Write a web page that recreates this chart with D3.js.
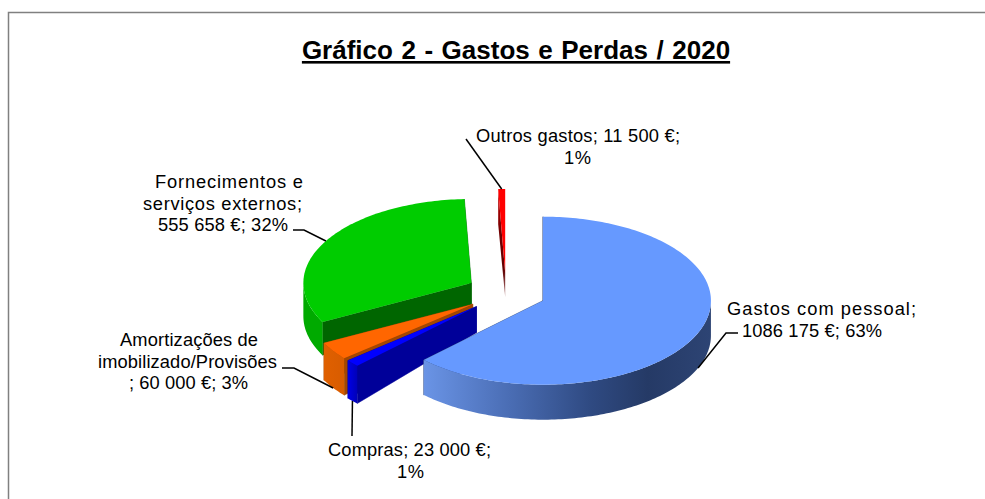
<!DOCTYPE html>
<html>
<head>
<meta charset="utf-8">
<script src="https://cdn.jsdelivr.net/npm/d3@7/dist/d3.min.js"></script>
<style>
  html, body { margin: 0; padding: 0; background: #fff; }
  text { font-family: "Liberation Sans", Arial, sans-serif; fill: #000; }
</style>
</head>
<body>
<div id="chart"></div>
<script>
const categories = ["Gastos com pessoal", "Compras", "Amortizações de imobilizado/Provisões", "Fornecimentos e serviços externos", "Outros gastos"];
const values = [1086175, 23000, 60000, 555658, 11500];
const labelLines = [
    ["Gastos com pessoal;", "1086 175 €; 63%"],
    ["Compras; 23 000 €;", "1%"],
    ["Amortizações de", "imobilizado/Provisões", "; 60 000 €; 3%"],
    ["Fornecimentos e", "serviços externos;", "555 658 €; 32%"],
    ["Outros gastos; 11 500 €;", "1%"]
];
const titleText = "Gráfico 2 - Gastos e Perdas / 2020";

const width = 985, height = 499;

// pie geometry (all slices exploded from the same centre)
const cx = 506, cy = 293, rx = 168, ry = 84;
const explode = 40;
const depthInner = 24, depthOuter = 35;

// colours and label placing, same order as categories
const topColor = ["#6699ff", "#0000ff", "#ff6600", "#00cc00", "#ff0000"];
const sideColor = ["#2b4070", "#000099", "#a34700", "#006600", "#7a0000"];
const depthScale = [1, 1.08, 1.06, 0.95, 1]; // nearer slices look a bit taller
const wallStops = [
    [["0%", "#6a94e6"], ["30%", "#4a6db4"], ["58%", "#2f4a82"], ["78%", "#253a66"], ["100%", "#2d4474"]],
    [["0%", "#0000e6"], ["100%", "#0000b8"]],
    [["0%", "#e06000"], ["100%", "#d85c00"]],
    [["0%", "#00aa00"], ["100%", "#00aa00"]],
    [["0%", "#7a0000"], ["100%", "#7a0000"]]
];
// x start / end of every text line, first baseline, leader elbow points
const labelPos = [
    { y: 315, spans: [[727, 916], [742, 882]], elbow: [[726, 333], [738, 333]] },
    { y: 456, spans: [[328, 491], [397, 424]], elbow: [[352, 436]] },
    { y: 346, spans: [[120, 258], [98, 277], [129, 248]], elbow: [[294, 368], [282, 368]] },
    { y: 188, spans: [[155, 303], [143, 302], [158, 288]], elbow: [[304, 230], [293, 230]] },
    { y: 142, spans: [[476, 680], [564, 591]], elbow: [[466, 139]] }
];

const svg = d3.select("#chart")
    .append("svg")
    .attr("width", width)
    .attr("height", height)
    .style("display", "block");

// grey frame, only top and left show in the picture
svg.append("path")
    .attr("d", `M8.5,499V12.5H${width}`)
    .attr("fill", "none")
    .attr("stroke", "#808080")
    .attr("stroke-width", 1.5);

svg.append("text")
    .attr("x", 516)
    .attr("y", 59)
    .attr("text-anchor", "middle")
    .attr("font-size", 26)
    .attr("font-weight", "bold")
    .attr("word-spacing", 1.3)
    .attr("text-decoration", "underline")
    .text(titleText);

// clockwise from 12 o'clock, angles in radians
const arcs = d3.pie().sort(null).value(function (d) { return d; })(values);

const slices = arcs.map(function (a, i) {
    const mid = (a.startAngle + a.endAngle) / 2;
    return {
        i: i,
        a0: a.startAngle,
        a1: a.endAngle,
        mid: mid,
        ox: cx + explode * Math.sin(mid),
        oy: cy - explode * 0.5 * Math.cos(mid),
        dIn: depthInner * depthScale[i],
        dOut: depthOuter * depthScale[i]
    };
});

function rim(s, a) {
    return [s.ox + rx * Math.sin(a), s.oy - ry * Math.cos(a)];
}
function down(p, d) {
    return [p[0], p[1] + d];
}
const line = d3.line();

function sampleAngles(a0, a1) {
    const n = Math.max(2, Math.ceil((a1 - a0) / 0.02));
    return d3.range(n + 1).map(function (k) { return a0 + (a1 - a0) * k / n; });
}

const defs = svg.append("defs");
const sliceLayer = svg.append("g");

// drawn back to front
[4, 3, 2, 1, 0].forEach(function (i) {
    const s = slices[i];
    const g = sliceLayer.append("g");
    const vertex = [s.ox, s.oy];

    // straight cut faces
    [s.a1, s.a0].forEach(function (a) {
        const p = rim(s, a);
        g.append("path")
            .attr("d", line([p, vertex, down(vertex, s.dIn), down(p, s.dOut)]) + "Z")
            .attr("fill", i === 4 ? "url(#wall4)" : sideColor[i])
            .attr("stroke", i === 4 ? "none" : sideColor[i])
            .attr("stroke-width", 0.5);
    });

    // outer wall, only the part that faces the viewer (90 to 270 degrees)
    const w0 = Math.max(s.a0, Math.PI / 2), w1 = Math.min(s.a1, 3 * Math.PI / 2);
    const grad = defs.append("linearGradient")
        .attr("id", "wall" + i)
        .attr("gradientUnits", "userSpaceOnUse");
    if (i === 4) {
        // the thin slice fades downwards
        const p = rim(s, s.a0);
        grad.attr("x1", 0).attr("x2", 0).attr("y1", p[1]).attr("y2", s.oy + s.dIn);
        [["0%", "#d00000"], ["40%", "#700000"], ["75%", "#600000"], ["100%", "#b08080"]].forEach(function (st) {
            grad.append("stop").attr("offset", st[0]).attr("stop-color", st[1]);
        });
    } else {
        const xs = sampleAngles(w0, w1).map(function (a) { return rim(s, a)[0]; });
        grad.attr("x1", d3.min(xs)).attr("x2", d3.max(xs)).attr("y1", 0).attr("y2", 0);
        wallStops[i].forEach(function (st) {
            grad.append("stop").attr("offset", st[0]).attr("stop-color", st[1]);
        });
    }
    if (w1 > w0) {
        const topEdge = sampleAngles(w0, w1).map(function (a) { return rim(s, a); });
        const botEdge = topEdge.map(function (p) { return down(p, s.dOut); }).reverse();
        g.append("path")
            .attr("d", line(topEdge.concat(botEdge)) + "Z")
            .attr("fill", "url(#wall" + i + ")");
    }

    // top face
    const face = [vertex].concat(sampleAngles(s.a0, s.a1).map(function (a) { return rim(s, a); }));
    g.append("path")
        .attr("d", line(face) + "Z")
        .attr("fill", topColor[i]);
});

// leader lines start at the middle of each slice rim
slices.forEach(function (s, i) {
    let start = rim(s, s.mid);
    if (Math.cos(s.mid) < 0) start = down(start, s.dOut);
    svg.append("path")
        .attr("d", line([start].concat(labelPos[i].elbow)))
        .attr("fill", "none")
        .attr("stroke", "#000")
        .attr("stroke-width", 1.5);
});

// labels, each line stretched to the width it has in the picture
labelLines.forEach(function (lines, i) {
    const t = svg.append("text")
        .attr("aria-label", categories[i])
        .attr("font-size", 18.3);
    lines.forEach(function (l, k) {
        const span = labelPos[i].spans[k];
        t.append("tspan")
            .attr("x", span[0])
            .attr("y", labelPos[i].y + k * 21.5)
            .attr("textLength", span[1] - span[0])
            .text(l);
    });
});
</script>
</body>
</html>
